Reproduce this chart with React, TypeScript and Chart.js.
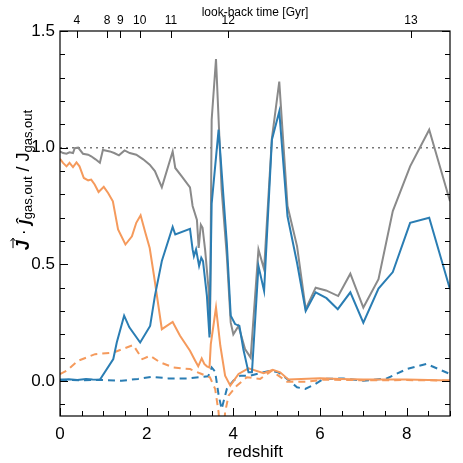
import { useEffect, useRef } from 'react';
import { Chart, registerables } from 'chart.js';
Chart.register(...registerables);

// total (gray, solid)
const zTotal = [0, 0.07, 0.15, 0.22, 0.30, 0.34, 0.42, 0.53, 0.65, 0.72, 0.82, 0.92, 0.99, 1.15, 1.25, 1.36, 1.49, 1.61, 1.76, 1.92, 2.07, 2.19, 2.35, 2.60, 2.66, 2.81, 3.00, 3.06, 3.16, 3.20, 3.25, 3.29, 3.35, 3.43, 3.46, 3.50, 3.60, 3.73, 3.85, 3.94, 4.00, 4.12, 4.27, 4.40, 4.58, 4.71, 4.89, 5.06, 5.25, 5.47, 5.67, 5.90, 6.14, 6.42, 6.70, 7.00, 7.35, 7.68, 8.08, 8.52, 9.00];
const vTotal = [0.984, 0.977, 0.974, 0.98, 0.977, 0.998, 1.0, 0.974, 0.97, 0.963, 0.95, 0.935, 0.99, 0.984, 0.977, 0.967, 0.988, 0.977, 0.97, 0.95, 0.927, 0.9, 0.83, 0.984, 0.913, 0.877, 0.83, 0.75, 0.69, 0.57, 0.67, 0.657, 0.56, 0.39, 0.2, 1.12, 1.38, 0.82, 0.535, 0.25, 0.2, 0.236, 0.137, 0.1, 0.564, 0.479, 1.04, 1.283, 0.75, 0.578, 0.308, 0.4, 0.388, 0.364, 0.46, 0.315, 0.436, 0.728, 0.92, 1.077, 0.77];

// blue solid
const zBlue = [0, 0.2, 0.4, 0.6, 0.75, 0.92, 1.23, 1.31, 1.48, 1.60, 1.85, 2.08, 2.19, 2.35, 2.60, 2.66, 3.00, 3.06, 3.09, 3.14, 3.21, 3.26, 3.30, 3.39, 3.45, 3.50, 3.66, 3.85, 3.94, 4.04, 4.14, 4.23, 4.35, 4.43, 4.58, 4.71, 4.89, 5.06, 5.25, 5.47, 5.67, 5.90, 6.15, 6.41, 6.70, 7.00, 7.35, 7.68, 8.08, 8.52, 9.00];
const vBlue = [0.005, 0.008, 0.004, 0.009, 0.006, 0.005, 0.094, 0.165, 0.28, 0.23, 0.165, 0.236, 0.365, 0.514, 0.66, 0.628, 0.652, 0.564, 0.535, 0.564, 0.493, 0.528, 0.514, 0.365, 0.187, 0.76, 1.077, 0.59, 0.28, 0.244, 0.236, 0.137, 0.037, 0.037, 0.493, 0.386, 1.034, 1.155, 0.706, 0.507, 0.3, 0.38, 0.355, 0.308, 0.38, 0.25, 0.396, 0.467, 0.678, 0.7, 0.393];

// orange solid
const zOrange = [0, 0.07, 0.15, 0.22, 0.30, 0.38, 0.45, 0.55, 0.65, 0.72, 0.80, 0.89, 1.01, 1.11, 1.22, 1.34, 1.51, 1.66, 1.76, 1.86, 1.97, 2.07, 2.17, 2.35, 2.60, 2.77, 3.00, 3.12, 3.19, 3.27, 3.33, 3.39, 3.45, 3.48, 3.60, 3.70, 3.81, 3.93, 4.12, 4.35, 4.70, 4.91, 5.08, 5.27, 6.00, 6.47, 7.0, 8.0, 9.0];
const vOrange = [0.952, 0.935, 0.92, 0.935, 0.917, 0.937, 0.92, 0.87, 0.86, 0.863, 0.842, 0.81, 0.832, 0.806, 0.77, 0.65, 0.585, 0.62, 0.678, 0.71, 0.635, 0.57, 0.45, 0.222, 0.253, 0.194, 0.13, 0.087, 0.063, 0.097, 0.073, 0.063, 0.058, 0.158, 0.315, 0.151, 0.023, -0.02, 0.03, 0.054, 0.033, 0.048, 0.037, 0.006, 0.012, 0.009, 0.006, 0.006, 0.002];

// blue dashed
const zBlueDash = [0, 0.5, 0.92, 1.42, 1.80, 2.12, 2.50, 2.96, 3.42, 3.50, 3.58, 3.66, 3.73, 3.85, 4.00, 4.16, 4.39, 4.54, 4.85, 5.04, 5.24, 5.47, 5.66, 5.89, 6.08, 6.54, 7.00, 7.54, 8.00, 8.46, 9.00];
const vBlueDash = [0.005, 0.003, 0.005, 0.001, 0.009, 0.018, 0.011, 0.011, 0.02, 0.058, 0.04, -0.06, -0.12, -0.034, 0.001, 0.023, 0.023, 0.03, 0.044, 0.037, 0.009, -0.027, -0.034, -0.013, 0.009, 0.011, 0.001, 0.011, 0.051, 0.073, 0.03];

// orange dashed
const zOrangeDash = [0, 0.15, 0.42, 0.81, 1.23, 1.69, 1.90, 2.08, 2.31, 2.62, 3.00, 3.27, 3.46, 3.58, 3.66, 3.73, 3.81, 3.89, 4.08, 4.31, 4.62, 4.89, 5.04, 5.24, 5.70, 6.08, 7.0, 8.0, 9.0];
const vOrangeDash = [0.03, 0.044, 0.087, 0.115, 0.122, 0.154, 0.094, 0.108, 0.08, 0.058, 0.051, 0.03, 0.016, -0.034, -0.134, -0.35, -0.134, -0.063, -0.02, 0.016, 0.009, 0.044, 0.023, -0.003, -0.003, 0.006, 0.003, 0.004, 0.002];

const refZ = [0, 9];
const refV = [1, 1];

// top axis: look-back time labels and their redshift positions
const lookbackLabels = ['4', '8', '9', '10', '11', '12', '13'];
const lookbackRedshifts = [0.39, 1.085, 1.39, 1.84, 2.56, 3.88, 8.1];

const FONT = "'Liberation Sans', Arial, Helvetica, sans-serif";
const GRAY = '#8a8a8a';
const BLUE = '#2a7db3';
const ORANGE = '#f59a5c';

const pts = (zs: number[], vs: number[]) => zs.map((z, i) => ({ x: z, y: vs[i] }));

const framePlugin = {
  id: 'frame',
  afterDraw(chart: any) {
    const { ctx, chartArea: a, scales } = chart;
    const xs = scales.x, ys = scales.y;
    ctx.save();
    ctx.strokeStyle = '#000';
    ctx.lineWidth = 1.2;
    ctx.strokeRect(a.left, a.top, a.right - a.left, a.bottom - a.top);
    ctx.lineWidth = 1;
    ctx.beginPath();
    for (let i = 0; i <= 18; i++) {
      const v = i * 0.5;
      const px = Math.round(xs.getPixelForValue(v)) + 0.5;
      const len = i % 4 === 0 ? 8 : 5;
      ctx.moveTo(px, a.bottom);
      ctx.lineTo(px, a.bottom - len);
    }
    for (let i = -1; i <= 15; i++) {
      const v = i * 0.1;
      const py = Math.round(ys.getPixelForValue(v)) + 0.5;
      const len = i % 5 === 0 ? 8 : 5;
      ctx.moveTo(a.left, py);
      ctx.lineTo(a.left + len, py);
      ctx.moveTo(a.right, py);
      ctx.lineTo(a.right - len, py);
    }
    const x2 = scales.x2;
    lookbackRedshifts.forEach((z) => {
      const px = Math.round(x2.getPixelForValue(z)) + 0.5;
      ctx.moveTo(px, a.top);
      ctx.lineTo(px, a.top + 7);
    });
    ctx.stroke();

    // y-axis title: J-vector . j-hat_gas,out / J_gas,out
    const main = `italic bold 18px ${FONT}`;
    const mainUp = `18px ${FONT}`;
    const sub = `13px ${FONT}`;
    const pieces: { t: string; f: string; dy: number }[] = [
      { t: 'J', f: main, dy: 0 },
      { t: ' · ', f: mainUp, dy: 0 },
      { t: 'ĵ', f: main, dy: 0 },
      { t: 'gas,out', f: sub, dy: 3 },
      { t: ' / ', f: mainUp, dy: 0 },
      { t: 'J', f: mainUp, dy: 0 },
      { t: 'gas,out', f: sub, dy: 3 },
    ];
    let total = 0;
    const widths = pieces.map((p) => {
      ctx.font = p.f;
      const w = ctx.measureText(p.t).width;
      total += w;
      return w;
    });
    ctx.translate(29, 180);
    ctx.rotate(-Math.PI / 2);
    ctx.fillStyle = '#000';
    ctx.textBaseline = 'alphabetic';
    ctx.textAlign = 'left';
    let x = -total / 2;
    pieces.forEach((p, i) => {
      ctx.font = p.f;
      ctx.fillText(p.t, x, p.dy);
      if (i === 0) {
        // arrow over J
        const y = -16;
        ctx.beginPath();
        ctx.lineWidth = 1;
        ctx.moveTo(x + 2, y);
        ctx.lineTo(x + widths[0] + 2, y);
        ctx.moveTo(x + widths[0] - 1, y - 2.5);
        ctx.lineTo(x + widths[0] + 2, y);
        ctx.lineTo(x + widths[0] - 1, y + 2.5);
        ctx.stroke();
      }
      x += widths[i];
    });
    ctx.restore();
  },
};

export default function App() {
  const ref = useRef<HTMLCanvasElement>(null);
  useEffect(() => {
    document.body.style.margin = '0';
    const c = ref.current!;
    const common = { pointRadius: 0, tension: 0, xAxisID: 'x', yAxisID: 'y' };
    const chart = new Chart(c, {
      type: 'line',
      data: {
        datasets: [
          { ...common, data: pts(refZ, refV), borderColor: '#777', borderWidth: 1.5, borderDash: [2, 4], order: 6 },
          { ...common, data: pts(zBlueDash, vBlueDash), borderColor: BLUE, borderWidth: 2, borderDash: [7, 5], order: 5 },
          { ...common, data: pts(zOrangeDash, vOrangeDash), borderColor: ORANGE, borderWidth: 2, borderDash: [7, 5], order: 4 },
          { ...common, data: pts(zTotal, vTotal), borderColor: GRAY, borderWidth: 2, order: 3 },
          { ...common, data: pts(zOrange, vOrange), borderColor: ORANGE, borderWidth: 2, order: 2 },
          { ...common, data: pts(zBlue, vBlue), borderColor: BLUE, borderWidth: 2, order: 1 },
        ],
      },
      options: {
        animation: false,
        responsive: false,
        devicePixelRatio: 1,
        layout: { padding: { left: 0, right: 13, top: 0, bottom: 0 } },
        plugins: { legend: { display: false }, tooltip: { enabled: false } },
        scales: {
          x: {
            type: 'linear',
            position: 'bottom',
            min: 0,
            max: 9,
            grid: { display: false, drawTicks: false },
            border: { display: false },
            ticks: {
              stepSize: 0.5,
              autoSkip: false,
              maxRotation: 0,
              padding: 8,
              color: '#000',
              font: { size: 17, family: FONT },
              callback: (v: any) => (Math.abs(v % 2) < 1e-6 ? String(v) : ''),
            },
            title: { display: true, text: 'redshift', color: '#000', font: { size: 17, family: FONT }, padding: { top: 0, bottom: 0 } },
            afterFit: (s: any) => { s.height = 47; },
          },
          x2: {
            type: 'linear',
            position: 'top',
            min: 0,
            max: 9,
            grid: { display: false, drawTicks: false },
            border: { display: false },
            afterBuildTicks: (s: any) => { s.ticks = lookbackRedshifts.map((v) => ({ value: v })); },
            ticks: {
              autoSkip: false,
              maxRotation: 0,
              padding: 3,
              color: '#000',
              font: { size: 12, family: FONT },
              callback: (_v: any, i: number) => lookbackLabels[i],
            },
            title: { display: true, text: 'look-back time [Gyr]', color: '#000', font: { size: 12, family: FONT }, padding: { top: 5, bottom: 0 } },
            afterFit: (s: any) => { s.height = 31; },
          },
          y: {
            type: 'linear',
            min: -0.15,
            max: 1.5,
            grid: { display: false, drawTicks: false },
            border: { display: false },
            ticks: {
              stepSize: 0.1,
              autoSkip: false,
              padding: 5,
              color: '#000',
              font: { size: 17, family: FONT },
              callback: (v: any) => {
                const r = Math.round(v * 10) / 10;
                return Math.abs(r * 2 - Math.round(r * 2)) < 1e-6 && Math.abs(v - r) < 1e-6 ? r.toFixed(1) : '';
              },
            },
            afterFit: (s: any) => { s.width = 60; },
          },
        },
      },
      plugins: [framePlugin],
    });
    return () => chart.destroy();
  }, []);
  return (
    <div style={{ width: 463, height: 463 }}>
      <canvas ref={ref} width={463} height={463} style={{ display: 'block' }} />
    </div>
  );
}
